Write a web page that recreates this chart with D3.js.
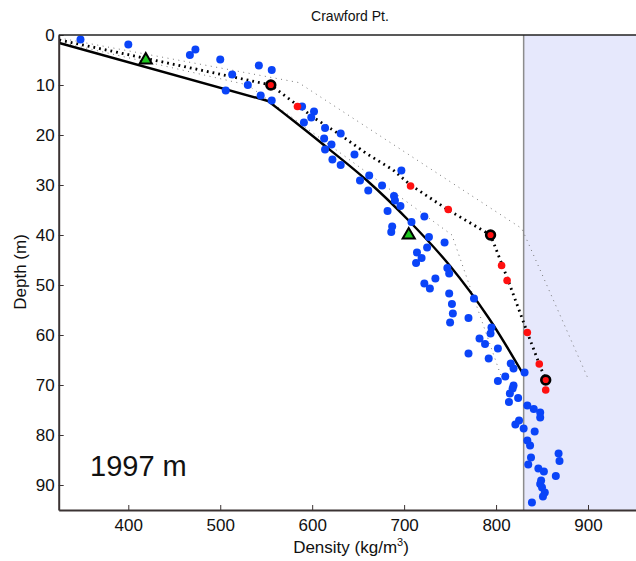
<!DOCTYPE html>
<html>
<head>
<meta charset="utf-8">
<script src="https://cdn.jsdelivr.net/npm/d3@7"></script>
<style>
  body { margin: 0; background: #fff; }
  svg { display: block; font-family: Arial, "Liberation Sans", sans-serif; }
</style>
</head>
<body>
<svg id="chart" width="636" height="561"></svg>
<script>
// axis ticks
const xTicks = [400, 500, 600, 700, 800, 900];
const yTicks = [0, 10, 20, 30, 40, 50, 60, 70, 80, 90];
const iceLimit = 830; // shaded band starts here (kg/m3)

// [density, depth]
const solidHead = [[325, 1.6], [552, 13.2]];
const solidTail = [[552, 13.2], [580, 17.2], [608, 21.3], [659, 29], [706, 37.3], [750, 46.2], [792, 56.6], [830, 68]];
const modelDotted = [[325, 1.0], [555, 10], [603, 16.7], [630, 19.9], [659, 23.7], [688, 27], [707, 30], [748, 35], [794, 40], [812, 48.5], [834, 59.5], [847, 65.8], [854, 69]];
const envUpper = [[325, 0.6], [585, 9.5], [828, 38.7], [900, 68.7]];
const envLower = [[325, 1.4], [530, 10], [752, 40], [805, 68]];

const blueObs = [[348,0.9],[400,1.9],[467,4.0],[473,2.9],[500,4.9],[513,7.9],[542,6.1],[556,7.0],[530,10.0],[506,11.1],
  [544,12.1],[556,13.1],[589,14.3],[602,15.3],[599,16.5],[591,17.5],[614,18.6],[631,19.7],[613,20.7],[621,21.9],
  [614,22.9],[646,23.9],[622,24.9],[631,26.0],[697,27.1],[662,28.1],[652,29.1],[676,30.1],[661,31.1],[689,32.2],
  [690,33.1],[696,34.2],[682,35.2],[722,36.3],[708,37.4],[687,38.3],[686,39.4],[727,40.4],[744,41.5],[725,42.5],
  [714,43.5],[719,44.6],[713,45.6],[747,46.6],[749,47.7],[734,48.7],[722,49.7],[728,50.7],[749,51.7],[776,52.7],
  [752,53.8],[753,55.7],[770,56.6],[750,57.5],[795,58.5],[794,59.7],[782,60.7],[788,61.8],[802,62.7],[770,63.7],
  [792,64.7],[816,65.7],[819,66.7],[831,67.5],[810,68.3],[802,69.2],[819,70.1],[818,70.7],[815,71.7],[824,72.6],
  [814,73.4],[834,74.1],[841,74.8],[848,75.5],[848,76.5],[825,77.1],[821,77.9],[830,78.7],[842,79.3],[834,81.1],
  [837,82.1],[868,83.7],[869,85.2],[838,84.5],[835,85.9],[846,86.7],[852,87.3],[865,88.2],[849,89.1],[848,89.8],
  [850,90.5],[853,91.5],[851,92.3],[839,93.5]];
const redObs = [[584,14.3],[707,30.2],[748,34.9],[806,46.1],[812,49.1],[834,59.5],[847,65.8],[854,71]];
const redMarks = [[555,10],[794,40],[854,69]];
const greenMarks = [[419,5],[705,40]];

const svg = d3.select("#chart");
const x = d3.scaleLinear().domain([324.3, 952.2]).range([58.7, 636]);
const y = d3.scaleLinear().domain([0, 95]).range([35, 510]);

// shaded band
svg.append("rect")
    .attr("x", x(iceLimit)).attr("y", y(0))
    .attr("width", x.range()[1] - x(iceLimit)).attr("height", y(95) - y(0))
    .attr("fill", "#e6e8fc");
svg.append("line")
    .attr("x1", x(iceLimit)).attr("x2", x(iceLimit))
    .attr("y1", y(0)).attr("y2", y(95))
    .attr("stroke", "#8c8c8c").attr("stroke-width", 1.5);

const line = d3.line().x(d => x(d[0])).y(d => y(d[1]));
const smooth = d3.line().x(d => x(d[0])).y(d => y(d[1])).curve(d3.curveCatmullRom);

svg.append("path").attr("d", line(envUpper))
    .attr("fill", "none").attr("stroke", "#777").attr("stroke-width", 1)
    .attr("stroke-dasharray", "1,4.5");
svg.append("path").attr("d", line(envLower))
    .attr("fill", "none").attr("stroke", "#777").attr("stroke-width", 1)
    .attr("stroke-dasharray", "1,4.5");
svg.append("path").attr("d", line(modelDotted))
    .attr("fill", "none").attr("stroke", "#000").attr("stroke-width", 2.8)
    .attr("stroke-dasharray", "1.8,4");
svg.append("path").attr("d", line(solidHead))
    .attr("fill", "none").attr("stroke", "#000").attr("stroke-width", 2.4);
svg.append("path").attr("d", smooth(solidTail))
    .attr("fill", "none").attr("stroke", "#000").attr("stroke-width", 2.4);

svg.selectAll(".blue").data(blueObs).enter().append("circle")
    .attr("cx", d => x(d[0])).attr("cy", d => y(d[1]))
    .attr("r", 4).attr("fill", "#0a44f8");
svg.selectAll(".red").data(redObs).enter().append("circle")
    .attr("cx", d => x(d[0])).attr("cy", d => y(d[1]))
    .attr("r", 3.8).attr("fill", "#ff1010");
svg.selectAll(".redBig").data(redMarks).enter().append("circle")
    .attr("cx", d => x(d[0])).attr("cy", d => y(d[1]))
    .attr("r", 4.4).attr("fill", "#ff1010")
    .attr("stroke", "#000").attr("stroke-width", 2.6);
svg.selectAll(".tri").data(greenMarks).enter().append("path")
    .attr("d", d3.symbol(d3.symbolTriangle, 64))
    .attr("transform", d => `translate(${x(d[0])},${y(d[1])})`)
    .attr("fill", "#1ec81e").attr("stroke", "#000").attr("stroke-width", 2);

// axes
const axisColor = "#3b3333";
const gx = svg.append("g").attr("transform", `translate(0,${y(95)})`)
    .call(d3.axisBottom(x).tickValues(xTicks).tickSizeInner(-5).tickSizeOuter(0).tickPadding(9));
const gy = svg.append("g").attr("transform", `translate(${x.range()[0]},0)`)
    .call(d3.axisLeft(y).tickValues(yTicks).tickSizeInner(-5).tickSizeOuter(0).tickPadding(4));
[gx, gy].forEach(g => {
    g.select(".domain").attr("stroke", axisColor).attr("stroke-width", 2);
    g.selectAll(".tick line").attr("stroke", axisColor);
    g.selectAll(".tick text").attr("fill", "#111").style("font-size", "17px")
        .style("font-family", "Arial, 'Liberation Sans', sans-serif");
});
svg.append("line")
    .attr("x1", x.range()[0]).attr("x2", x.range()[1])
    .attr("y1", y(0)).attr("y2", y(0))
    .attr("stroke", "#222").attr("stroke-width", 1.5);

// labels
svg.append("text").attr("x", 350).attr("y", 21).attr("text-anchor", "middle")
    .style("font-size", "14px").attr("fill", "#111").text("Crawford Pt.");
const xl = svg.append("text").attr("x", 351).attr("y", 553).attr("text-anchor", "middle")
    .style("font-size", "17px").attr("fill", "#111");
xl.append("tspan").text("Density (kg/m");
xl.append("tspan").attr("dy", -7).style("font-size", "11px").text("3");
xl.append("tspan").attr("dy", 7).text(")");
svg.append("text").attr("transform", "translate(26,272) rotate(-90)").attr("text-anchor", "middle")
    .style("font-size", "17px").attr("fill", "#111").text("Depth (m)");
svg.append("text").attr("x", 90).attr("y", 476)
    .style("font-size", "29px").attr("fill", "#111").text("1997 m");
</script>
</body>
</html>
